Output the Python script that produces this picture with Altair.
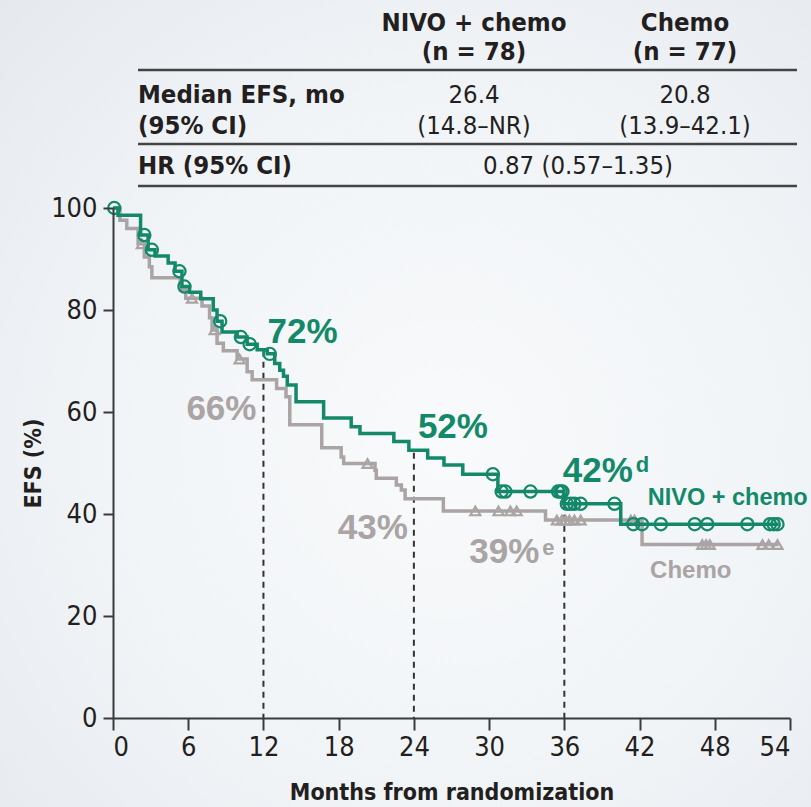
import altair as alt
import pandas as pd

# ---- Kaplan-Meier EFS curves: month of each step and EFS (%) after it ----
nivo_t = [0, 0.4, 2.2, 2.8, 3.35, 4.4, 4.95, 5.5, 6.1, 7.0, 8.0, 8.3, 8.7, 9.9,
          10.7, 11.5, 12.3, 12.9, 13.3, 13.6, 13.9, 14.6, 16.8, 19.0, 19.7,
          22.4, 23.6, 25.1, 26.4, 27.9, 30.7, 35.95, 40.5]
nivo_s = [100, 98.6, 94.7, 91.8, 90.6, 89.2, 87.6, 84.6, 83.5, 82.2, 80.0, 77.8,
          75.7, 74.7, 73.3, 72.2, 71.4, 69.5, 68.2, 67.0, 65.3, 62.0, 58.8, 57.1,
          55.8, 54.2, 52.5, 51.0, 49.6, 47.8, 44.4, 42.0, 38.0]
nivo_end = 53.1
nivo_censor = [0.1, 2.5, 3.1, 5.3, 5.7, 8.55, 10.2, 10.9, 12.5, 30.3, 31.0, 31.3,
               33.3, 35.5, 35.7, 35.85, 36.2, 36.5, 36.8, 37.3, 40.0, 41.5, 42.2,
               43.7, 46.4, 47.4, 50.6, 52.4, 52.7, 53.0]

chemo_t = [0, 0.55, 1.1, 2.0, 2.5, 2.9, 3.1, 5.35, 5.8, 7.1, 7.7, 7.9, 8.3, 8.8,
           9.9, 10.7, 11.1, 13.05, 13.8, 14.1, 16.65, 18.2, 18.4, 20.9, 21.0,
           22.6, 23.0, 23.3, 26.35, 34.5, 42.2]
chemo_s = [100, 97.6, 96.0, 93.0, 90.4, 88.5, 86.3, 84.0, 82.3, 80.8, 78.5, 76.1,
           73.5, 72.0, 70.4, 67.9, 66.3, 64.6, 63.0, 57.5, 53.0, 51.2, 49.9, 48.6,
           47.0, 45.7, 44.7, 43.0, 40.6, 38.8, 34.0]
chemo_end = 53.1
chemo_censor = [2.3, 6.3, 8.1, 10.1, 20.3, 28.9, 30.75, 31.7, 32.2, 35.4, 35.8,
                36.1, 36.4, 36.8, 37.3, 41.3, 41.6, 47.0, 47.3, 47.6, 51.8, 52.3, 53.0]

# landmark rates
landmark_months = [12, 24, 36]
nivo_landmark = [72, 52, 42]
chemo_landmark = [66, 43, 39]
nivo_marks = ["", "", "d"]
chemo_marks = ["", "", "e"]

x_ticks = [0, 6, 12, 18, 24, 30, 36, 42, 48, 54]
y_ticks = [0, 20, 40, 60, 80, 100]

# summary table
arm_names = ["NIVO + chemo", "Chemo"]
arm_n = ["(n = 78)", "(n = 77)"]
median_efs = ["26.4", "20.8"]
median_ci = ["(14.8–NR)", "(13.9–42.1)"]
hr_text = "0.87 (0.57–1.35)"

# ---- styling ----
GREEN = "#13896a"
GRAY = "#aaa4a4"
INK = "#231f20"
AXIS = "#3a3a3a"
BG = "#eef1f5"
COND = "'Liberation Sans Narrow', 'DejaVu Sans Condensed', 'Liberation Sans', sans-serif"
BOLD = "'Liberation Sans', Arial, sans-serif"

W, H = 677, 510

xs = alt.Scale(domain=[0, 54], nice=False, zero=False)
ys = alt.Scale(domain=[0, 100], nice=False)
x_axis = alt.Axis(values=x_ticks, title="Months from randomization", grid=False, zindex=2)
y_axis = alt.Axis(values=y_ticks, title="EFS (%)", grid=False, zindex=2)


def X(field):
    return alt.X(field, type="quantitative", scale=xs, axis=x_axis)


def Y(field):
    return alt.Y(field, type="quantitative", scale=ys, axis=y_axis)


def step_frame(times, surv, end):
    return pd.DataFrame({"month": list(times) + [end], "efs": list(surv) + [surv[-1]]})


def censor_frame(times, steps_t, steps_s):
    vals = []
    for t in times:
        v = steps_s[0]
        for st, ss in zip(steps_t, steps_s):
            if st <= t:
                v = ss
        vals.append(v)
    return pd.DataFrame({"month": times, "efs": vals})


nivo_df = step_frame(nivo_t, nivo_s, nivo_end)
chemo_df = step_frame(chemo_t, chemo_s, chemo_end)
nivo_cens = censor_frame(nivo_censor, nivo_t, nivo_s)
chemo_cens = censor_frame(chemo_censor, chemo_t, chemo_s)

# soft radial backdrop behind the whole figure
backdrop = alt.Chart(pd.DataFrame({"a": [0]})).mark_rect(
    fill={
        "gradient": "radial",
        "x1": 0.55, "y1": 0.55, "r1": 0,
        "x2": 0.55, "y2": 0.55, "r2": 0.78,
        "stops": [
            {"offset": 0, "color": "#f8fafb"},
            {"offset": 0.55, "color": "#f1f4f7"},
            {"offset": 1, "color": "#e5e9ee"},
        ],
    },
).encode(x=alt.value(-113), x2=alt.value(698), y=alt.value(-208), y2=alt.value(599))

# dashed landmark guides from the axis up to the NIVO + chemo curve
guide_df = pd.DataFrame({"month": landmark_months, "efs": nivo_landmark, "base": [0] * 3})
guides = alt.Chart(guide_df).mark_rule(
    color="#333333", strokeWidth=2, strokeDash=[6, 5]
).encode(x=X("month"), y=Y("efs"), y2=alt.Y2("base"))

chemo_line = alt.Chart(chemo_df).mark_line(
    interpolate="step-after", color=GRAY, strokeWidth=3.5
).encode(x=X("month"), y=Y("efs"))
chemo_pts = alt.Chart(chemo_cens).mark_point(
    shape="triangle-up", size=100, filled=False, color=GRAY, strokeWidth=2.2, opacity=1
).encode(x=X("month"), y=Y("efs"))

nivo_line = alt.Chart(nivo_df).mark_line(
    interpolate="step-after", color=GREEN, strokeWidth=3.5
).encode(x=X("month"), y=Y("efs"))
nivo_pts = alt.Chart(nivo_cens).mark_point(
    shape="circle", size=150, filled=False, color=GREEN, strokeWidth=2.2, opacity=1
).encode(x=X("month"), y=Y("efs"))

layers = [backdrop, guides, chemo_line, chemo_pts, nivo_line, nivo_pts]


def rate_label(month, value, text, color, dx, dy, align, size=35):
    df = pd.DataFrame({"month": [month], "efs": [value], "t": [text]})
    return alt.Chart(df).mark_text(
        align=align, baseline="alphabetic", dx=dx, dy=dy, fontSize=size,
        fontWeight="bold", color=color, font=BOLD
    ).encode(x=X("month"), y=Y("efs"), text="t:N")


# offsets (px) of each landmark label from its point on the curve
nivo_off = [(4, -8), (4, -15), (-1.5, -22)]
chemo_off = [(-7, 39), (-6, 40), (-25, 44)]
# superscript offsets relative to the main label
nivo_sup = [None, None, (73, -10)]
chemo_sup = [None, None, (3, -8)]

for m, v, mark, (dx, dy), sup in zip(landmark_months, nivo_landmark, nivo_marks, nivo_off, nivo_sup):
    layers.append(rate_label(m, v, f"{v}%", GREEN, dx, dy, "left"))
    if mark:
        layers.append(rate_label(m, v, mark, GREEN, dx + sup[0], dy + sup[1], "left", size=22))

for m, v, mark, (dx, dy), sup in zip(landmark_months, chemo_landmark, chemo_marks, chemo_off, chemo_sup):
    layers.append(rate_label(m, v, f"{v}%", GRAY, dx, dy, "right"))
    if mark:
        layers.append(rate_label(m, v, mark, GRAY, dx + sup[0], dy + sup[1], "left", size=22))

# arm labels next to the curve tails
layers.append(rate_label(nivo_t[-1], nivo_s[-1], arm_names[0], GREEN, 27, -19, "left", size=23.5))
layers.append(rate_label(chemo_t[-1], chemo_s[-1], arm_names[1], GRAY, 8, 33, "left", size=24))


# ---- summary table above the plot (pixel positions relative to the plot origin) ----
def table_text(text, x, y, weight, align, size=25.5):
    return alt.Chart(pd.DataFrame({"t": [text]})).mark_text(
        align=align, baseline="alphabetic", fontSize=size, fontWeight=weight,
        color=INK, font=COND
    ).encode(x=alt.value(x), y=alt.value(y), text="t:N")


def table_rule(y):
    return alt.Chart(pd.DataFrame({"a": [0]})).mark_rule(
        color="#444444", strokeWidth=2.5
    ).encode(x=alt.value(25), x2=alt.value(684), y=alt.value(y))


col_x = [361, 572]
for cx, name, n, med, ci in zip(col_x, arm_names, arm_n, median_efs, median_ci):
    layers.append(table_text(name, cx, -177, "bold", "center"))
    layers.append(table_text(n, cx, -148, "bold", "center"))
    layers.append(table_text(med, cx, -105, "normal", "center"))
    layers.append(table_text(ci, cx, -74, "normal", "center"))
layers.append(table_text("Median EFS, mo", 25, -105, "bold", "left"))
layers.append(table_text("(95% CI)", 25, -74, "bold", "left"))
layers.append(table_text("HR (95% CI)", 25, -34, "bold", "left"))
layers.append(table_text(hr_text, 465, -34, "normal", "center"))
for ry in [-138, -64, -22]:
    layers.append(table_rule(ry))

chart = alt.layer(*layers).properties(
    width=W, height=H,
    autosize=alt.AutoSizeParams(type="none"),
    padding={"left": 113, "top": 208, "right": 21, "bottom": 89},
    background=BG,
).configure_view(stroke=None).configure_axis(
    domainColor=AXIS, domainWidth=2, tickColor=AXIS, tickWidth=2,
    labelColor=INK, titleColor=INK, labelFont=COND, titleFont=COND,
    labelFontSize=27, titleFontSize=23, titleFontWeight="bold",
).configure_axisX(
    tickSize=12, labelPadding=4, titlePadding=21,
).configure_axisY(
    tickSize=10, labelPadding=6, titlePadding=5,
)

chart.save("out.html", embed_options={"renderer": "svg", "actions": False})
